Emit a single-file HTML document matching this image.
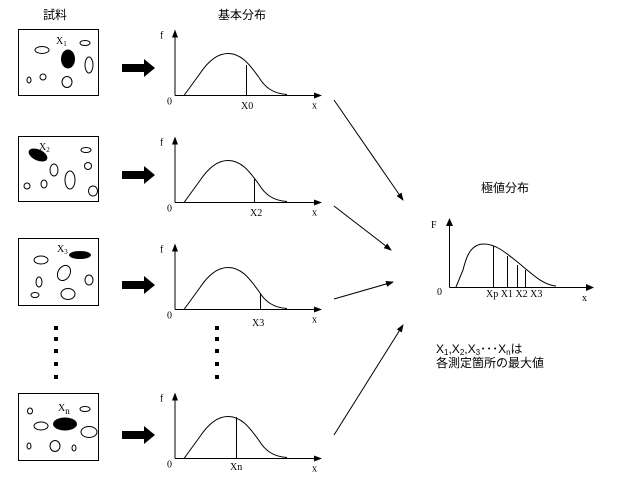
<!DOCTYPE html>
<html><head><meta charset="utf-8"><style>
body{margin:0;background:#fff}
svg{display:block}
text{font-family:"Liberation Serif","Noto Sans CJK JP",serif;font-size:10px;fill:#000}
.j{font-family:"Liberation Sans","Noto Sans CJK JP",sans-serif;font-size:12px}
</style></head><body>
<svg width="643" height="479" viewBox="0 0 643 479" xmlns="http://www.w3.org/2000/svg">
<defs>
<g id="g">
<line x1="0" y1="0" x2="0" y2="-62" stroke="#000"/>
<polygon points="-3,-58 0,-66 3,-58" fill="#000"/>
<line x1="0" y1="0" x2="143" y2="0" stroke="#000"/>
<polygon points="139,-3 147,0 139,3" fill="#000"/>
<path d="M9,0 L25,-22 C33,-34 42,-42 53,-42 C66,-42 74,-32 84,-18 C90,-8 98,-2 112,-1" fill="none" stroke="#000"/>
<text x="-15" y="-57">f</text>
<text x="-8" y="9">0</text>
<text x="137" y="13">x</text>
</g>
<g id="ar"><polygon points="0,-4 22,-4 22,-9 33,0 22,9 22,4 0,4" fill="#000"/></g>
<marker id="m" markerWidth="8" markerHeight="8" refX="7" refY="4" orient="auto"><path d="M0,1 L8,4 L0,7z" fill="#000"/></marker>
</defs>
<text class="j" x="43" y="19" font-size="13">試料</text>
<text class="j" x="218" y="19" font-size="13">基本分布</text>
<text class="j" x="481" y="192" font-size="13">極値分布</text>

<g fill="none" stroke="#000">
<rect x="18.5" y="29.5" width="80" height="66"/>
<rect x="18.5" y="136.5" width="80" height="65"/>
<rect x="18.5" y="238.5" width="80" height="67"/>
<rect x="18.5" y="393.5" width="80" height="67"/>
<ellipse cx="42" cy="50" rx="7" ry="3.5"/><ellipse cx="85" cy="43" rx="5" ry="2.5"/>
<ellipse cx="89" cy="65" rx="4" ry="8"/><ellipse cx="29" cy="80" rx="2" ry="3"/>
<ellipse cx="43" cy="77" rx="3" ry="3"/><ellipse cx="67" cy="82" rx="5" ry="5.5"/>
<ellipse cx="86" cy="150" rx="5" ry="2.5"/><ellipse cx="54" cy="170" rx="4" ry="6"/>
<ellipse cx="70" cy="180" rx="5" ry="9"/><ellipse cx="88" cy="166" rx="3.5" ry="3.5"/>
<ellipse cx="27" cy="186" rx="3" ry="3"/><ellipse cx="44" cy="184" rx="3" ry="4"/>
<ellipse cx="93" cy="191" rx="4.5" ry="5"/>
<ellipse cx="41" cy="260" rx="7" ry="4"/><ellipse cx="64" cy="273" rx="6" ry="8" transform="rotate(30 64 273)"/>
<ellipse cx="39" cy="282" rx="3" ry="5"/><ellipse cx="89" cy="280" rx="4" ry="5"/>
<ellipse cx="35" cy="295" rx="4" ry="2.5"/><ellipse cx="68" cy="294" rx="7" ry="5.5"/>
<ellipse cx="30" cy="411" rx="2.5" ry="3"/><ellipse cx="85" cy="409" rx="5" ry="2.5"/>
<ellipse cx="41" cy="426" rx="7" ry="4"/><ellipse cx="89" cy="432" rx="8" ry="5.5"/>
<ellipse cx="29" cy="446" rx="2" ry="3"/><ellipse cx="55" cy="446" rx="5" ry="5.5"/>
<ellipse cx="74" cy="448" rx="2" ry="3"/>
</g>
<ellipse cx="68" cy="59" rx="7" ry="9.5" fill="#000"/>
<ellipse cx="38" cy="155" rx="10" ry="5.5" fill="#000" transform="rotate(25 38 155)"/>
<ellipse cx="80" cy="255" rx="11" ry="4" fill="#000"/>
<ellipse cx="65" cy="424" rx="12" ry="6.5" fill="#000"/>
<text x="56" y="44">X<tspan font-size="7" dy="2">1</tspan></text>
<text x="39" y="150">X<tspan font-size="7" dy="2">2</tspan></text>
<text x="57" y="252">X<tspan font-size="7" dy="2">3</tspan></text>
<text x="58" y="411">X<tspan font-size="9" dy="3">n</tspan></text>

<use href="#ar" x="122" y="68"/>
<use href="#ar" x="122" y="175"/>
<use href="#ar" x="122" y="285"/>
<use href="#ar" x="122" y="435"/>

<use href="#g" x="175" y="95.5"/>
<use href="#g" x="175" y="202.5"/>
<use href="#g" x="175" y="309.5"/>
<use href="#g" x="175" y="458.5"/>
<line x1="246.5" y1="95" x2="246.5" y2="65" stroke="#000"/>
<line x1="254.5" y1="202" x2="254.5" y2="179" stroke="#000"/>
<line x1="260.5" y1="309" x2="260.5" y2="294" stroke="#000"/>
<line x1="236.5" y1="458" x2="236.5" y2="417" stroke="#000"/>
<text x="241" y="109" font-size="9">X0</text>
<text x="250" y="216" font-size="9">X2</text>
<text x="252" y="326" font-size="9">X3</text>
<text x="230" y="470" font-size="9">Xn</text>

<g fill="#000">
<rect x="54" y="326" width="4" height="4"/><rect x="54" y="337" width="4" height="4"/><rect x="54" y="349" width="4" height="4"/><rect x="54" y="362" width="4" height="4"/><rect x="54" y="375" width="4" height="4"/>
<rect x="215" y="326" width="4" height="4"/><rect x="215" y="337" width="4" height="4"/><rect x="215" y="349" width="4" height="4"/><rect x="215" y="362" width="4" height="4"/><rect x="215" y="375" width="4" height="4"/>
</g>

<g stroke="#000" marker-end="url(#m)">
<line x1="334" y1="100" x2="403" y2="200"/>
<line x1="334" y1="206" x2="391" y2="250"/>
<line x1="334" y1="299" x2="393" y2="282"/>
<line x1="334" y1="435" x2="403" y2="325"/>
</g>

<g stroke="#000" fill="none">
<line x1="449.5" y1="287.5" x2="449.5" y2="225"/>
<line x1="449.5" y1="287.5" x2="588" y2="287.5"/>
<path d="M456,287 L463,270 C466,258 470,244 484,244 C495,244 505,252 515,260 C530,272 542,285 556,286"/>
<line x1="493.5" y1="287" x2="493.5" y2="246"/>
<line x1="507.5" y1="287" x2="507.5" y2="256"/>
<line x1="517.5" y1="287" x2="517.5" y2="265"/>
<line x1="525.5" y1="287" x2="525.5" y2="270"/>
</g>
<polygon points="446,226 449.5,218 453,226" fill="#000"/>
<polygon points="586,284 594,287.5 586,291" fill="#000"/>
<text x="431" y="228">F</text>
<text x="437" y="295">0</text>
<text x="582" y="301">x</text>
<text x="486" y="297" font-size="8">Xp X1 X2 X3</text>
<text class="j" x="436" y="353" font-size="12">X<tspan font-size="8" dy="2">1</tspan><tspan dy="-2">,X</tspan><tspan font-size="8" dy="2">2</tspan><tspan dy="-2">,X</tspan><tspan font-size="8" dy="2">3</tspan><tspan dy="-2">･･･X</tspan><tspan font-size="8" dy="2">n</tspan><tspan dy="-2">は</tspan></text>
<text class="j" x="436" y="367">各測定箇所の最大値</text>
</svg>
</body></html>
